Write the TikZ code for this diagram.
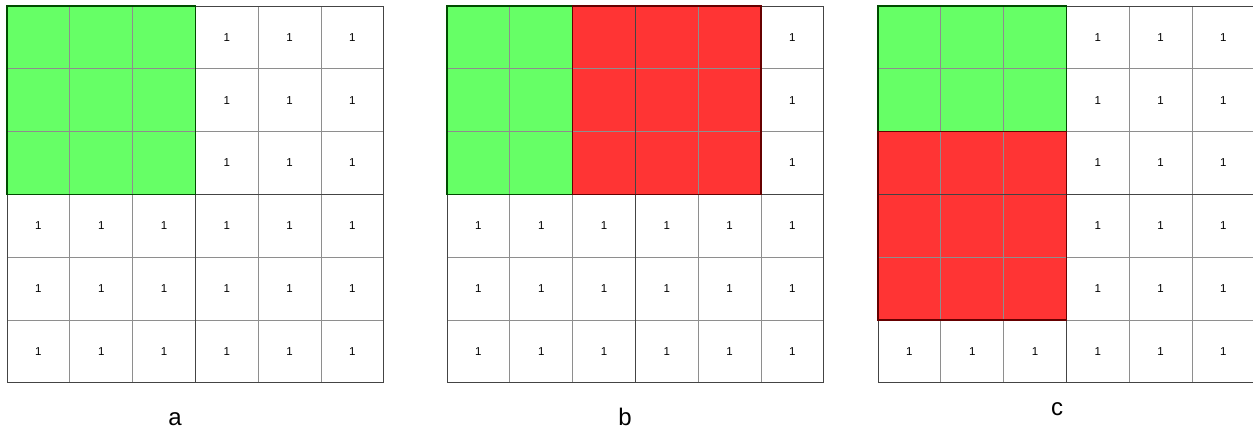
\documentclass[tikz,border=0pt]{standalone}
\usepackage{fontspec}
\setmainfont{Liberation Sans}
\usetikzlibrary{positioning}

\definecolor{cellgreen}{HTML}{66FF66}
\definecolor{cellred}{HTML}{FF3434}
\definecolor{thinline}{HTML}{8E8E8E}
\definecolor{blockline}{HTML}{444444}

\begin{document}
\begin{tikzpicture}[x=1pt, y=-1pt,
  one/.style={font=\fontsize{11.5}{12}\selectfont, inner sep=0pt},
  caption/.style={font=\fontsize{24}{24}\selectfont, inner sep=0pt, anchor=base},
  thin grid/.style={draw=thinline, line width=0.9pt},
  block grid/.style={draw=blockline, line width=1pt},
  green block/.style={fill=cellgreen, draw=black!70!green, line width=1.3pt},
  red block/.style={fill=cellred, draw=red!40!black, line width=1.3pt}]

  \useasboundingbox (0,0) rectangle (1253,429);

  % Grid a
  \begin{scope}[xshift=7pt, yshift=-6pt, x=62.8pt, y=-62.8pt]
    \fill[cellgreen] (0,0) rectangle (3,3);
    \foreach \i in {1,...,5} {
      \draw[thin grid] (\i,0) -- (\i,6);
      \draw[thin grid] (0,\i) -- (6,\i);
    }
    \draw[block grid] (3,0) -- (3,6) (0,3) -- (6,3) (0,0) rectangle (6,6);
    \draw[green block, fill=none] (0,0) rectangle (3,3);
    \foreach \r in {0,1,2} \foreach \c in {3,4,5}
      \node[one] (a-\r-\c) at (\c+0.5,\r+0.5) {1};
    \foreach \r in {3,4,5} \foreach \c in {0,...,5}
      \node[one] (a-\r-\c) at (\c+0.5,\r+0.5) {1};
  \end{scope}

  % Grid b
  \begin{scope}[xshift=447pt, yshift=-6pt, x=62.8pt, y=-62.8pt]
    \fill[cellgreen] (0,0) rectangle (2,3);
    \fill[cellred] (2,0) rectangle (5,3);
    \foreach \i in {1,...,5} {
      \draw[thin grid] (\i,0) -- (\i,6);
      \draw[thin grid] (0,\i) -- (6,\i);
    }
    \draw[block grid] (3,0) -- (3,6) (0,3) -- (6,3) (0,0) rectangle (6,6);
    \draw[green block, fill=none] (0,0) rectangle (2,3);
    \draw[red block, fill=none] (2,0) rectangle (5,3);
    \foreach \r in {0,1,2}
      \node[one] (b-\r-5) at (5.5,\r+0.5) {1};
    \foreach \r in {3,4,5} \foreach \c in {0,...,5}
      \node[one] (b-\r-\c) at (\c+0.5,\r+0.5) {1};
  \end{scope}

  % Grid c
  \begin{scope}[xshift=878pt, yshift=-6pt, x=62.8pt, y=-62.8pt]
    \fill[cellgreen] (0,0) rectangle (3,2);
    \fill[cellred] (0,2) rectangle (3,5);
    \foreach \i in {1,...,5} {
      \draw[thin grid] (\i,0) -- (\i,6);
      \draw[thin grid] (0,\i) -- (6,\i);
    }
    \draw[block grid] (3,0) -- (3,6) (0,3) -- (6,3) (0,0) rectangle (6,6);
    \draw[green block, fill=none] (0,0) rectangle (3,2);
    \draw[red block, fill=none] (0,2) rectangle (3,5);
    \foreach \r in {0,...,5} \foreach \c in {3,4,5}
      \node[one] (c-\r-\c) at (\c+0.5,\r+0.5) {1};
    \foreach \c in {0,1,2}
      \node[one] (c-5-\c) at (\c+0.5,5.5) {1};
  \end{scope}

  % Captions
  \node[caption] (cap-a) at (175,425) {a};
  \node[caption] (cap-b) at (625,425) {b};
  \node[caption] (cap-c) at (1057,415) {c};

\end{tikzpicture}
\end{document}
